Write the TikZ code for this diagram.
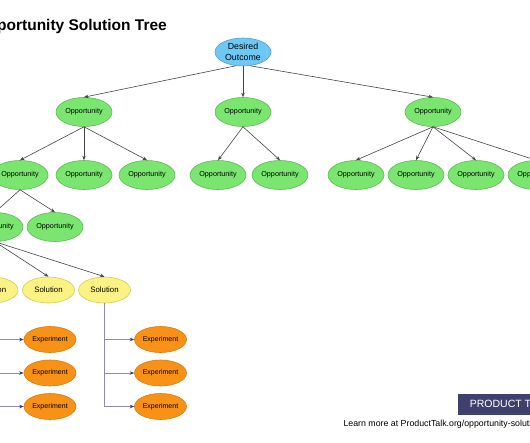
\documentclass[tikz,border=0pt]{standalone}
\usepackage{fontspec}
\setmainfont{Liberation Sans}
\usetikzlibrary{shapes.geometric,arrows.meta}
\definecolor{oppfill}{RGB}{122,230,112}
\definecolor{oppline}{RGB}{96,184,88}
\definecolor{dofill}{RGB}{110,200,245}
\definecolor{doline}{RGB}{86,160,214}
\definecolor{solfill}{RGB}{250,242,130}
\definecolor{solline}{RGB}{214,202,92}
\definecolor{expfill}{RGB}{247,146,22}
\definecolor{expline}{RGB}{214,124,20}
\definecolor{treeline}{RGB}{70,70,70}
\definecolor{explink}{RGB}{140,140,178}
\definecolor{exparrow}{RGB}{50,62,130}
\definecolor{ptblue}{RGB}{64,64,110}
\begin{document}
\begin{tikzpicture}[x=1pt,y=-1pt,
  oval/.style={ellipse, draw, line width=0.6pt, inner sep=0pt, align=center},
  opp/.style={oval, fill=oppfill, draw=oppline, minimum width=56pt, minimum height=29pt, font=\fontsize{7.2}{8}\selectfont},
  outcome/.style={oval, fill=dofill, draw=doline, minimum width=56pt, minimum height=28pt, font=\fontsize{8.8}{10.5}\selectfont},
  sol/.style={oval, fill=solfill, draw=solline, minimum width=52pt, minimum height=26pt, font=\fontsize{7.8}{9}\selectfont},
  expnode/.style={oval, fill=expfill, draw=expline, minimum width=52pt, minimum height=26pt, font=\fontsize{7}{8}\selectfont},
  tree/.style={draw=treeline, line width=0.6pt, -{Stealth[length=4.5pt,width=3.5pt]}},
  explinkstyle/.style={draw=explink, line width=0.8pt, -{Stealth[length=4.5pt,width=3.5pt,color=exparrow]}}
]
\useasboundingbox (0,0) rectangle (530,442);
\clip (0,0) rectangle (530,442);
\fill[white] (0,0) rectangle (530,442);

\node[anchor=base east, font=\bfseries\fontsize{15.5}{18}\selectfont, inner sep=0pt] (title) at (167,30) {Opportunity Solution Tree};

\node[outcome] (do) at (243,52) {Desired\\Outcome};

\node[opp] (o1) at (84,112) {Opportunity};
\node[opp] (o2) at (243,112) {Opportunity};
\node[opp] (o3) at (433,112) {Opportunity};

\node[opp] (o11) at (20,175) {Opportunity};
\node[opp] (o12) at (84,175) {Opportunity};
\node[opp] (o13) at (147,175) {Opportunity};
\node[opp] (o21) at (218,175) {Opportunity};
\node[opp] (o22) at (280,175) {Opportunity};
\node[opp] (o31) at (356,175) {Opportunity};
\node[opp] (o32) at (416,175) {Opportunity};
\node[opp] (o33) at (476,175) {Opportunity};
\node[opp] (o34) at (536,175) {Opportunity};

\node[opp] (o111) at (-5,227) {Opportunity};
\node[opp] (o112) at (55,227) {Opportunity};

\node[sol] (s1) at (-8,290) {Solution};
\node[sol] (s2) at (48.5,290) {Solution};
\node[sol] (s3) at (104.5,290) {Solution};

\node[expnode] (e1a) at (50,339.5) {Experiment};
\node[expnode] (e1b) at (50,373) {Experiment};
\node[expnode] (e1c) at (50,406.5) {Experiment};
\node[expnode] (e3a) at (160.5,339.5) {Experiment};
\node[expnode] (e3b) at (160.5,373) {Experiment};
\node[expnode] (e3c) at (160.5,406.5) {Experiment};

\draw[tree] (do.-118) -- (o1.north);
\draw[tree] (do.south) -- (o2.north);
\draw[tree] (do.-62) -- (o3.north);
\foreach \t in {o11,o12,o13} \draw[tree] (o1.south) -- (\t.north);
\foreach \t in {o21,o22} \draw[tree] (o2.south) -- (\t.north);
\foreach \t in {o31,o32,o33,o34} \draw[tree] (o3.south) -- (\t.north);
\foreach \t in {o111,o112} \draw[tree] (o11.south) -- (\t.north);
\foreach \t in {s1,s2,s3} \draw[tree] (o111.south) -- (\t.north);

\foreach \t in {e1a,e1b,e1c} \draw[explinkstyle] (s1.south) |- (\t.west);
\foreach \t in {e3a,e3b,e3c} \draw[explinkstyle] (s3.south) |- (\t.west);

\node[anchor=north west, fill=ptblue, text=white, minimum height=21pt, inner xsep=12pt, inner ysep=0pt, font=\fontsize{10.5}{12}\selectfont] (pt) at (457.7,393.3) {PRODUCT TALK};
\node[anchor=base west, inner sep=0pt, font=\fontsize{8.8}{10}\selectfont] (learn) at (343.3,426) {Learn more at ProductTalk.org/opportunity-solution-tree};
\end{tikzpicture}
\end{document}
